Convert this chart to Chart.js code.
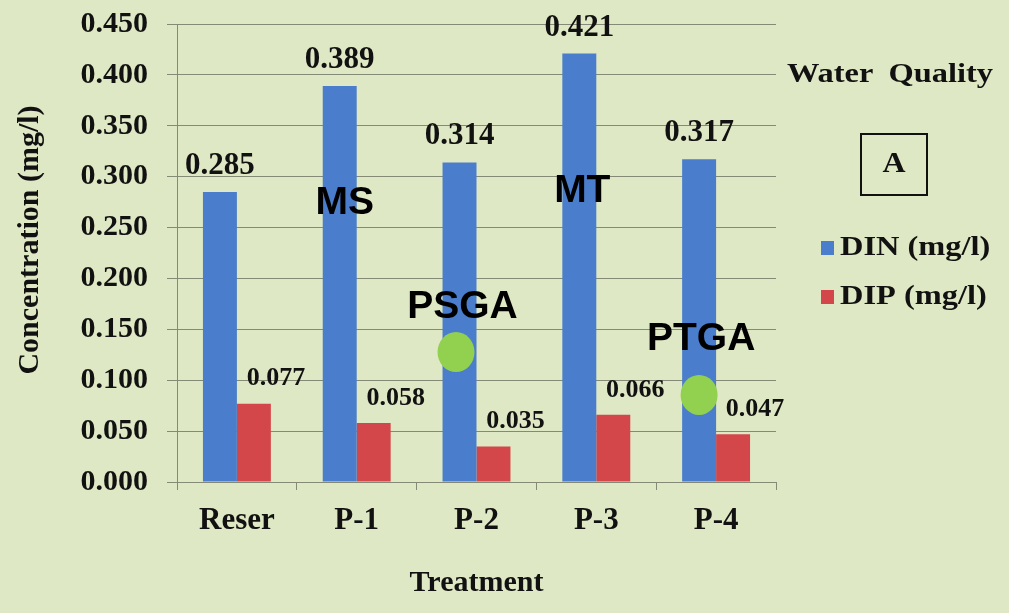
<!DOCTYPE html>
<html>
<head>
<meta charset="utf-8">
<script src="https://cdn.jsdelivr.net/npm/chart.js@4.4.1/dist/chart.umd.min.js"></script>
<style>
  html, body { margin: 0; padding: 0; background: #dfe8c4; }
  #wrap { width: 1009px; height: 613px; }
</style>
</head>
<body>
<div id="wrap"><canvas id="c" width="1009" height="613"></canvas></div>
<script>
// ---- data ----
const categories = ["Reser", "P-1", "P-2", "P-3", "P-4"];
const dinValues = [0.285, 0.389, 0.314, 0.421, 0.317];
const dipValues = [0.077, 0.058, 0.035, 0.066, 0.047];
const seriesNames = ["DIN (mg/l)", "DIP (mg/l)"];
const yTickMin = 0, yTickMax = 0.45, yTickStep = 0.05;
const legendTitle = "Water Quality";
const panelLabel = "A";
const xAxisTitle = "Treatment";
const yAxisTitle = "Concentration (mg/l)";
// overlay annotations anchored to the scales (category index, value)
const annotTexts = [
  { text: "MS",   cat: 0.90,  val: 0.276 },
  { text: "MT",   cat: 2.883, val: 0.288 },
  { text: "PSGA", cat: 1.883, val: 0.174 },
  { text: "PTGA", cat: 3.875, val: 0.1425 }
];
const annotDots = [
  { cat: 1.829, val: 0.1277 },
  { cat: 3.858, val: 0.0855 }
];

const SERIF = "'Liberation Serif', 'Times New Roman', serif";
const SANS = "'Liberation Sans', Arial, sans-serif";
const BG = '#dfe8c4';
const GRID = '#858a76';
const BLUE = '#4a7dcb';
const RED = '#d3474b';

const bgPlugin = {
  id: 'bg',
  beforeDraw(chart) {
    const ctx = chart.ctx;
    ctx.save();
    ctx.fillStyle = BG;
    ctx.fillRect(0, 0, chart.width, chart.height);
    ctx.restore();
  }
};

const labelPlugin = {
  id: 'valueLabels',
  afterDatasetsDraw(chart) {
    const ctx = chart.ctx;
    ctx.save();
    ctx.fillStyle = '#111';
    ctx.textAlign = 'center';
    ctx.textBaseline = 'middle';
    chart.data.datasets.forEach((ds, di) => {
      const meta = chart.getDatasetMeta(di);
      meta.data.forEach((bar, i) => {
        const v = ds.data[i];
        if (di === 0) {
          ctx.font = 'bold 31px ' + SERIF;
          ctx.fillText(v.toFixed(3), bar.x, bar.y - 26);
        } else {
          ctx.font = 'bold 26px ' + SERIF;
          ctx.fillText(v.toFixed(3), bar.x + 22, bar.y - 25);
        }
      });
    });
    ctx.restore();
  }
};

const annotPlugin = {
  id: 'annots',
  afterDraw(chart) {
    const ctx = chart.ctx;
    const xs = chart.scales.x, ys = chart.scales.y;
    const catPx = (c) => {
      const p0 = xs.getPixelForValue(0), p1 = xs.getPixelForValue(1);
      return p0 + (p1 - p0) * c;
    };
    ctx.save();
    ctx.fillStyle = '#92d050';
    annotDots.forEach(d => {
      ctx.beginPath();
      ctx.ellipse(catPx(d.cat), ys.getPixelForValue(d.val), 18.5, 20, 0, 0, Math.PI * 2);
      ctx.fill();
    });
    ctx.fillStyle = '#000';
    ctx.font = 'bold 39px ' + SANS;
    ctx.textAlign = 'center';
    ctx.textBaseline = 'middle';
    annotTexts.forEach(a => {
      ctx.fillText(a.text, catPx(a.cat), ys.getPixelForValue(a.val) + 2);
    });
    ctx.restore();
  }
};

function drawStretched(ctx, text, x, y, sx, align) {
  ctx.save();
  ctx.translate(x, y);
  ctx.scale(sx, 1);
  ctx.textAlign = align;
  ctx.fillText(text, 0, 0);
  ctx.restore();
}

const legendPlugin = {
  id: 'customLegend',
  afterDraw(chart) {
    const ctx = chart.ctx;
    ctx.save();
    ctx.fillStyle = '#111';
    ctx.textBaseline = 'middle';
    // y-axis title
    ctx.font = 'bold 30px ' + SERIF;
    ctx.save();
    ctx.translate(30, 240);
    ctx.rotate(-Math.PI / 2);
    ctx.textAlign = 'center';
    ctx.fillText(yAxisTitle, 0, 0);
    ctx.restore();
    // legend title
    ctx.font = 'bold 27px ' + SERIF;
    ctx.wordSpacing = '6px';
    drawStretched(ctx, legendTitle, 890, 75, 1.2, 'center');
    ctx.wordSpacing = '0px';
    // panel box
    ctx.strokeStyle = '#111';
    ctx.lineWidth = 2;
    ctx.strokeRect(861, 134, 66, 61);
    ctx.font = 'bold 29px ' + SERIF;
    drawStretched(ctx, panelLabel, 894, 165, 1.1, 'center');
    // series items
    const rows = [248, 297];
    chart.data.datasets.forEach((ds, i) => {
      const y = rows[i];
      ctx.fillStyle = ds.backgroundColor;
      ctx.fillRect(821, y - 7, 13, 14);
      ctx.fillStyle = '#111';
      ctx.font = 'bold 27px ' + SERIF;
      drawStretched(ctx, ds.label, 840, y, 1.2, 'left');
    });
    ctx.restore();
  }
};

new Chart(document.getElementById('c'), {
  type: 'bar',
  data: {
    labels: categories,
    datasets: [
      { label: seriesNames[0], data: dinValues, backgroundColor: BLUE, categoryPercentage: 0.567, barPercentage: 1.0 },
      { label: seriesNames[1], data: dipValues, backgroundColor: RED, categoryPercentage: 0.567, barPercentage: 1.0 }
    ]
  },
  options: {
    responsive: false,
    animation: false,
    layout: { padding: { top: 24, right: 233, left: 0, bottom: 0 } },
    plugins: {
      legend: { display: false },
      tooltip: { enabled: false }
    },
    scales: {
      x: {
        grid: { display: true, drawOnChartArea: false, drawTicks: true, tickLength: 8, color: GRID, offset: true },
        border: { display: true, color: GRID, width: 1 },
        ticks: { color: '#111', font: { family: SERIF, size: 31, weight: 'bold' }, padding: 12 },
        title: { display: true, text: xAxisTitle, color: '#111', font: { family: SERIF, size: 30, weight: 'bold' }, padding: { top: 4, bottom: 12 } },
        afterFit(s) { s.height = 131; s.paddingLeft = 0; s.paddingRight = 0; }
      },
      y: {
        min: yTickMin, max: yTickMax,
        grid: { color: GRID, tickLength: 10, lineWidth: 1 },
        border: { display: true, color: GRID, width: 1 },
        ticks: {
          stepSize: yTickStep,
          color: '#111',
          font: { family: SERIF, size: 30, weight: 'bold' },
          padding: 19,
          callback: (v) => Number(v).toFixed(3)
        },
        title: { display: false, text: yAxisTitle },
        afterFit(s) { s.width = 177; s.paddingTop = 0; s.paddingBottom = 0; }
      }
    }
  },
  plugins: [bgPlugin, labelPlugin, annotPlugin, legendPlugin]
});
</script>
</body>
</html>
